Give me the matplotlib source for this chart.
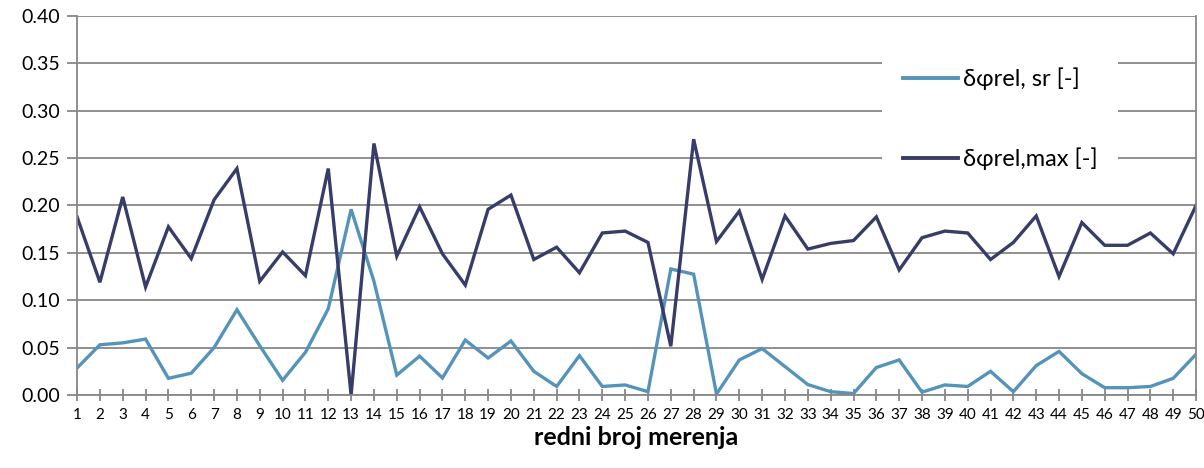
import numpy as np
import matplotlib
matplotlib.use('Agg')
import matplotlib.pyplot as plt

plt.rcParams['font.family'] = ['Lato', 'DejaVu Sans']

# measurement number
n = np.arange(1, 51)

# relative deviation, mean
d_sr = [0.0285, 0.053, 0.055, 0.059, 0.0176, 0.023, 0.050, 0.090, 0.052, 0.0155,
        0.045, 0.091, 0.196, 0.120, 0.021, 0.041, 0.018, 0.058, 0.039, 0.057,
        0.025, 0.009, 0.0415, 0.009, 0.0106, 0.0035, 0.133, 0.1275, 0.001, 0.037,
        0.049, 0.030, 0.011, 0.0035, 0.0015, 0.029, 0.037, 0.003, 0.0106, 0.009,
        0.025, 0.0035, 0.031, 0.046, 0.0225, 0.0077, 0.0077, 0.009, 0.0176, 0.043]

# relative deviation, max
d_max = [0.188, 0.119, 0.209, 0.114, 0.1775, 0.144, 0.206, 0.239, 0.120, 0.151,
         0.126, 0.239, 0.0, 0.2655, 0.1465, 0.1986, 0.149, 0.116, 0.196, 0.211,
         0.143, 0.156, 0.129, 0.171, 0.173, 0.161, 0.0514, 0.270, 0.162, 0.194,
         0.122, 0.189, 0.154, 0.160, 0.163, 0.188, 0.132, 0.166, 0.173, 0.171,
         0.143, 0.161, 0.189, 0.125, 0.182, 0.158, 0.158, 0.171, 0.149, 0.200]

labels = ['δφrel, sr [-]', 'δφrel,max [-]']
colors = ['#5594BA', '#383C68']
grid_col = '#878787'

fig = plt.figure(figsize=(12.04, 4.68), dpi=100)
ax = fig.add_axes([0.064, 0.156, 0.9294, 0.8098])

ax.plot(n, d_sr, color=colors[0], lw=2.4, label=labels[0], solid_joinstyle='miter')
ax.plot(n, d_max, color=colors[1], lw=2.4, label=labels[1], solid_joinstyle='miter')

ax.set_xlim(1, 50)
ax.set_ylim(0, 0.40)
yt = np.arange(0, 0.401, 0.05)
ax.set_yticks(yt)
ax.set_yticklabels([f'{v:.2f}' for v in yt], fontsize=14)
ax.set_xticks(n)
ax.set_xticklabels([str(i) for i in n], fontsize=11)
ax.grid(True, axis='y', color=grid_col, lw=1.3)
ax.set_axisbelow(True)

for s in ['left', 'bottom', 'right']:
    ax.spines[s].set_color(grid_col)
    ax.spines[s].set_linewidth(1.3)
ax.spines['top'].set_visible(False)
ax.tick_params(axis='y', length=7, width=1.3, color=grid_col, pad=5)
ax.tick_params(axis='x', direction='inout', length=9, width=1.3, color=grid_col, pad=5)

ax.set_xlabel('redni broj merenja', fontsize=18, fontweight='bold', labelpad=3)

leg = ax.legend(loc='upper left', bbox_to_anchor=(0.719, 0.921), fontsize=17,
                frameon=True, framealpha=1, edgecolor='none', fancybox=False,
                handlelength=2.33, handletextpad=0.2, labelspacing=2.45,
                borderpad=0.9, borderaxespad=0)
for line in leg.get_lines():
    line.set_linewidth(2.8)

fig.savefig('out.png', dpi=100)
